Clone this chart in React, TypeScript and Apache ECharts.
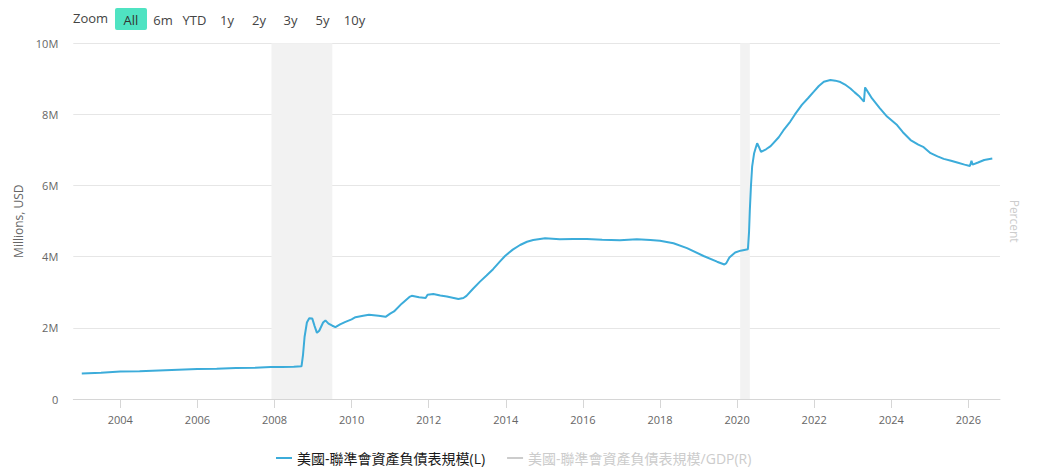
import React, { useEffect, useRef } from "react";
import * as echarts from "echarts";

// Decimal-year dates and Fed balance sheet (millions USD)
const dates: number[] = [
  2003.0, 2003.5, 2004.0, 2004.5, 2005.0, 2005.5, 2006.0, 2006.5, 2007.0, 2007.5,
  2007.9, 2008.2, 2008.5, 2008.7, 2008.74, 2008.78, 2008.84, 2008.9, 2008.98, 2009.04,
  2009.1, 2009.16, 2009.26, 2009.32, 2009.4, 2009.5, 2009.58, 2009.7, 2009.84, 2010.0,
  2010.1, 2010.3, 2010.45, 2010.7, 2010.88, 2011.0, 2011.1, 2011.3, 2011.5, 2011.56,
  2011.75, 2011.92, 2011.97, 2012.12, 2012.3, 2012.47, 2012.65, 2012.77, 2012.9, 2012.98,
  2013.15, 2013.33, 2013.5, 2013.67, 2013.85, 2013.98, 2014.18, 2014.37, 2014.55, 2014.71,
  2015.02, 2015.4, 2015.75, 2016.1, 2016.5, 2016.96, 2017.4, 2017.75, 2018.0, 2018.35,
  2018.7, 2019.13, 2019.48, 2019.67, 2019.72, 2019.8, 2019.95, 2020.09, 2020.28, 2020.31,
  2020.33, 2020.36, 2020.39, 2020.44, 2020.48, 2020.52, 2020.56, 2020.62, 2020.75, 2020.87,
  2021.08, 2021.2, 2021.38, 2021.5, 2021.68, 2021.85, 2021.99, 2022.12, 2022.25, 2022.42,
  2022.55, 2022.68, 2022.8, 2022.94, 2023.05, 2023.16, 2023.29, 2023.32, 2023.4, 2023.5,
  2023.7, 2023.89, 2024.15, 2024.3, 2024.5, 2024.7, 2024.84, 2025.02, 2025.2, 2025.36,
  2025.55, 2025.71, 2025.9, 2026.04, 2026.08, 2026.11, 2026.25, 2026.41, 2026.62,
];

const balance: number[] = [
  720000, 740000, 770000, 780000, 800000, 820000, 840000, 850000, 870000, 880000,
  900000, 900000, 910000, 920000, 1250000, 1750000, 2150000, 2270000, 2260000, 2050000,
  1860000, 1920000, 2150000, 2210000, 2120000, 2060000, 2020000, 2100000, 2170000, 2240000,
  2300000, 2340000, 2370000, 2340000, 2310000, 2400000, 2460000, 2680000, 2870000, 2900000,
  2860000, 2840000, 2930000, 2950000, 2910000, 2880000, 2840000, 2810000, 2840000, 2900000,
  3100000, 3300000, 3470000, 3650000, 3870000, 4020000, 4200000, 4330000, 4420000, 4470000,
  4520000, 4490000, 4500000, 4500000, 4480000, 4460000, 4490000, 4470000, 4450000, 4380000,
  4240000, 4020000, 3860000, 3780000, 3820000, 3980000, 4120000, 4170000, 4210000, 4700000,
  5310000, 6000000, 6530000, 6900000, 7050000, 7190000, 7100000, 6950000, 7020000, 7110000,
  7360000, 7550000, 7800000, 8000000, 8270000, 8470000, 8640000, 8800000, 8920000, 8970000,
  8950000, 8910000, 8840000, 8730000, 8620000, 8520000, 8360000, 8760000, 8620000, 8450000,
  8180000, 7940000, 7700000, 7500000, 7280000, 7150000, 7080000, 6910000, 6820000, 6750000,
  6700000, 6650000, 6590000, 6550000, 6700000, 6590000, 6650000, 6720000, 6760000,
];

// Balance sheet / GDP (percent) — hidden series (legend deselected)
const gdpDates: number[] = [
  2003, 2004, 2005, 2006, 2007, 2008, 2009, 2010, 2011, 2012, 2013, 2014,
  2015, 2016, 2017, 2018, 2019, 2020, 2021, 2022, 2023, 2024, 2025, 2026,
];
const gdpRatio: number[] = [
  6.3, 6.4, 6.3, 6.2, 6.1, 15.5, 15.0, 16.0, 18.5, 18.0, 23.5, 25.5,
  24.5, 23.8, 22.5, 20.5, 18.0, 33.0, 35.0, 34.5, 29.0, 24.5, 22.0, 21.0,
];

const recessions: [number, number][] = [
  [2007.92, 2009.5],
  [2020.08, 2020.33],
];

const xTicks: number[] = [2004, 2006, 2008, 2010, 2012, 2014, 2016, 2018, 2020, 2022, 2024, 2026];

const seriesNames = ["美國-聯準會資產負債表規模(L)", "美國-聯準會資產負債表規模/GDP(R)"];

const zoomButtons = ["6m", "YTD", "1y", "2y", "3y", "5y", "10y"];
const zoomButtonX = [163, 194.5, 227, 259, 290.5, 322.5, 354.5];

const FONT = "'Open Sans', 'Noto Sans', sans-serif";
const CJK = "'Open Sans', 'Noto Sans CJK TC', sans-serif";

export default function App() {
  const ref = useRef<HTMLDivElement>(null);

  useEffect(() => {
    document.body.style.margin = "0";
    if (!ref.current) return;
    const chart = echarts.init(ref.current, null, { renderer: "svg" });

    const mainData = dates.map((d, i) => [d, balance[i]]);
    const gdpData = gdpDates.map((d, i) => [d, gdpRatio[i]]);

    const graphics: any[] = [
      {
        type: "text",
        left: 73,
        top: 11,
        style: { text: "Zoom", fill: "#444", font: `13px ${FONT}` },
      },
      {
        type: "rect",
        shape: { x: 115, y: 8, width: 32, height: 22, r: 2 },
        style: { fill: "#4fe3c2" },
      },
      {
        type: "text",
        x: 131,
        y: 19.5,
        style: { text: "All", fill: "#333", font: `13px ${FONT}`, align: "center", verticalAlign: "middle" },
      },
      ...zoomButtons.map((b, i) => ({
        type: "text",
        x: zoomButtonX[i],
        y: 19.5,
        style: { text: b, fill: "#444", font: `13px ${FONT}`, align: "center", verticalAlign: "middle" },
      })),
    ];

    chart.setOption({
      animation: false,
      textStyle: { fontFamily: FONT },
      grid: { left: 73.3, right: 44, top: 43.3, bottom: 76, containLabel: false, outerBoundsMode: "none" },
      legend: {
        left: 271,
        top: 446,
        icon: "rect",
        itemWidth: 16,
        itemHeight: 2,
        itemGap: 22,
        textStyle: { fontSize: 14, color: "#1a1a1a", fontFamily: CJK },
        inactiveColor: "#cccccc",
        data: seriesNames,
        selected: { [seriesNames[0]]: true, [seriesNames[1]]: false },
      },
      xAxis: {
        type: "value",
        min: 2002.78,
        max: 2026.82,
        splitLine: { show: false },
        axisLine: { lineStyle: { color: "#d6d6d6", width: 1 } },
        axisTick: { show: true, length: 9, customValues: xTicks, lineStyle: { color: "#d6d6d6" } },
        axisLabel: {
          customValues: xTicks,
          formatter: (v: number) => String(Math.round(v)),
          color: "#666",
          fontSize: 11,
          margin: 15,
          fontFamily: FONT,
        },
      },
      yAxis: [
        {
          type: "value",
          min: 0,
          max: 10000000,
          interval: 2000000,
          name: "Millions, USD",
          nameLocation: "middle",
          nameRotate: 90,
          nameGap: 45,
          nameTextStyle: { color: "#666", fontSize: 12, fontFamily: FONT },
          axisLine: { show: false },
          axisTick: { show: false },
          axisLabel: {
            color: "#666",
            fontSize: 11,
            margin: 15,
            fontFamily: FONT,
            formatter: (v: number) => (v === 0 ? "0" : v / 1000000 + "M"),
          },
          splitLine: { lineStyle: { color: "#e6e6e6", width: 1 } },
        },
        {
          type: "value",
          position: "right",
          min: 0,
          max: 40,
          name: "Percent",
          nameLocation: "middle",
          nameRotate: -90,
          nameGap: 8,
          nameTextStyle: { color: "#cccccc", fontSize: 12, fontFamily: FONT },
          axisLine: { show: false },
          axisTick: { show: false },
          axisLabel: { show: false },
          splitLine: { show: false },
        },
      ],
      series: [
        {
          name: seriesNames[0],
          type: "line",
          data: mainData,
          yAxisIndex: 0,
          showSymbol: false,
          symbol: "none",
          lineStyle: { color: "#3cacda", width: 2 },
          itemStyle: { color: "#3cacda" },
          z: 3,
          markArea: {
            silent: true,
            itemStyle: { color: "#f2f2f2" },
            data: recessions.map(([a, b]) => [{ xAxis: a }, { xAxis: b }]),
          },
        },
        {
          name: seriesNames[1],
          type: "line",
          data: gdpData,
          yAxisIndex: 1,
          showSymbol: false,
          symbol: "none",
          lineStyle: { color: "#cccccc", width: 2 },
          itemStyle: { color: "#cccccc" },
        },
      ],
      graphic: graphics,
    });

    return () => chart.dispose();
  }, []);

  return <div ref={ref} style={{ width: 1044, height: 475 }} />;
}
